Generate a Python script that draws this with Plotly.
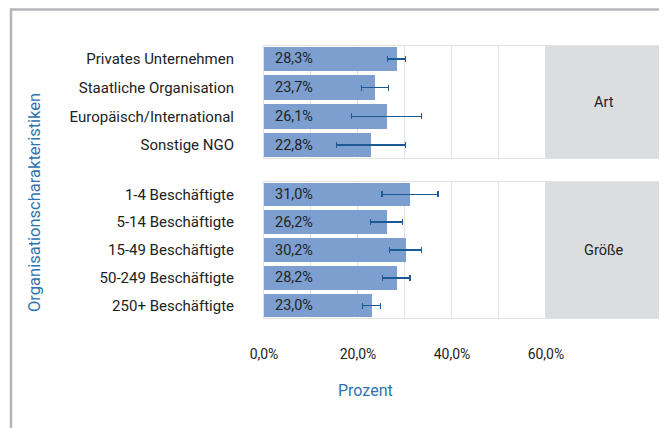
import plotly.graph_objects as go
from plotly.subplots import make_subplots

# ---- data ----
art_labels = ["Privates Unternehmen", "Staatliche Organisation", "Europäisch/International", "Sonstige NGO"]
art_values = [28.3, 23.7, 26.1, 22.8]
art_low = [26.3, 20.8, 18.6, 15.4]
art_high = [30.1, 26.5, 33.5, 30.1]

size_labels = ["1-4 Beschäftigte", "5-14 Beschäftigte", "15-49 Beschäftigte", "50-249 Beschäftigte", "250+ Beschäftigte"]
size_values = [31.0, 26.2, 30.2, 28.2, 23.0]
size_low = [25.1, 22.7, 26.7, 25.2, 21.0]
size_high = [37.0, 29.5, 33.5, 31.1, 24.8]

panel_names = ["Art", "Größe"]
tick_vals = [0, 10, 20, 30, 40, 50, 60]
tick_text = ["0,0%", "", "20,0%", "", "40,0%", "", "60,0%"]

# ---- layout geometry (page has an 8px body margin) ----
OFF = 8
W, H = 667 - OFF, 428 - OFF
ML, MR, MT, MB = 264 - OFF, 5, 46 - OFF, 110
PW = W - ML - MR
PH = H - MT - MB
XMAX = 84.7
STRIP_START = 60

def px2x(px):
    return (px - OFF - ML) / PW

def px2y(py):
    return (H - MB - (py - OFF)) / PH

BAR_COLOR = "#7c9fcf"
ERR_COLOR = "#1c5a96"
BLUE_TXT = "#2f72ad"
GRID = "#e2e2e2"
FONT = "Roboto"

fig = make_subplots(rows=2, cols=1, shared_xaxes=False, vertical_spacing=0,
                    row_heights=[4, 5])

groups = [(art_labels, art_values, art_low, art_high),
          (size_labels, size_values, size_low, size_high)]
W_BAR = 0.85
for i, (labs, vals, lo, hi) in enumerate(groups):
    fig.add_trace(go.Bar(
        y=labs, x=vals, orientation="h", width=W_BAR,
        marker=dict(color=BAR_COLOR, line=dict(width=0)),
        error_x=dict(type="data", symmetric=False,
                     array=[h - v for h, v in zip(hi, vals)],
                     arrayminus=[v - l for l, v in zip(lo, vals)],
                     color=ERR_COLOR, thickness=1.5, width=3),
        showlegend=False, hoverinfo="skip"), row=i + 1, col=1)
    for lab, v in zip(labs, vals):
        fig.add_annotation(x=0, y=lab, xref="x2" if i else "x", yref="y2" if i else "y",
                           text=f"{v:.1f}%".replace(".", ","), showarrow=False,
                           xanchor="left", xshift=9,
                           font=dict(family=FONT, size=14.5, color="#222"))

top_dom = [px2y(158), 1]
bot_dom = [0, px2y(182)]
common_x = dict(range=[0, XMAX], tickvals=tick_vals, showgrid=True, gridcolor=GRID,
                gridwidth=1, zeroline=False, showline=True, linecolor=GRID, mirror=True,
                tickfont=dict(family=FONT, size=14, color="#222"))
fig.update_xaxes(**common_x)
fig.update_xaxes(showticklabels=False, row=1, col=1)
fig.update_xaxes(ticktext=tick_text, ticklabelstandoff=23, row=2, col=1)

fig.update_yaxes(showgrid=False, zeroline=False, showline=True, linecolor=GRID, mirror=True,
                 ticks="", ticklabelstandoff=26,
                 tickfont=dict(family=FONT, size=15, color="#222"))
fig.update_yaxes(domain=top_dom, range=[3 + W_BAR / 2 + 0.02, -W_BAR / 2 - 0.02], row=1, col=1)
fig.update_yaxes(domain=bot_dom, range=[4 + W_BAR / 2 + 0.02, -W_BAR / 2 - 0.02], row=2, col=1)

for i, name in enumerate(panel_names):
    xr = "x" if i == 0 else "x2"
    yr = "y domain" if i == 0 else "y2 domain"
    fig.add_shape(type="rect", xref=xr, yref=yr, x0=STRIP_START, x1=XMAX, y0=0, y1=1,
                  fillcolor="#dcdddf", line=dict(width=0), layer="above")
    fig.add_annotation(xref=xr, yref=yr, x=(STRIP_START + XMAX) / 2, y=0.5, text=name,
                       showarrow=False, xanchor="center", yanchor="middle",
                       font=dict(family=FONT, size=14.5, color="#222"))

fig.add_annotation(xref="paper", yref="paper", x=px2x(34), y=px2y(203),
                   text="Organisationscharakteristiken", textangle=-90, showarrow=False,
                   xanchor="center", yanchor="middle",
                   font=dict(family=FONT, size=16.5, color=BLUE_TXT))
fig.add_annotation(xref="paper", yref="paper", x=px2x(365), y=px2y(390),
                   text="Prozent", showarrow=False, xanchor="center", yanchor="middle",
                   font=dict(family=FONT, size=16, color=BLUE_TXT))

fig.add_shape(type="line", xref="paper", yref="paper", x0=px2x(10), x1=px2x(667),
              y0=px2y(9.5), y1=px2y(9.5), line=dict(color="#b6b6ba", width=2.5))
fig.add_shape(type="line", xref="paper", yref="paper", x0=px2x(11), x1=px2x(11),
              y0=px2y(8.5), y1=px2y(428), line=dict(color="#b6b6ba", width=2.5))

fig.update_layout(width=W, height=H, margin=dict(l=ML, r=MR, t=MT, b=MB),
                  plot_bgcolor="white", paper_bgcolor="white", bargap=0,
                  font=dict(family=FONT))

fig.write_html("out.html")
